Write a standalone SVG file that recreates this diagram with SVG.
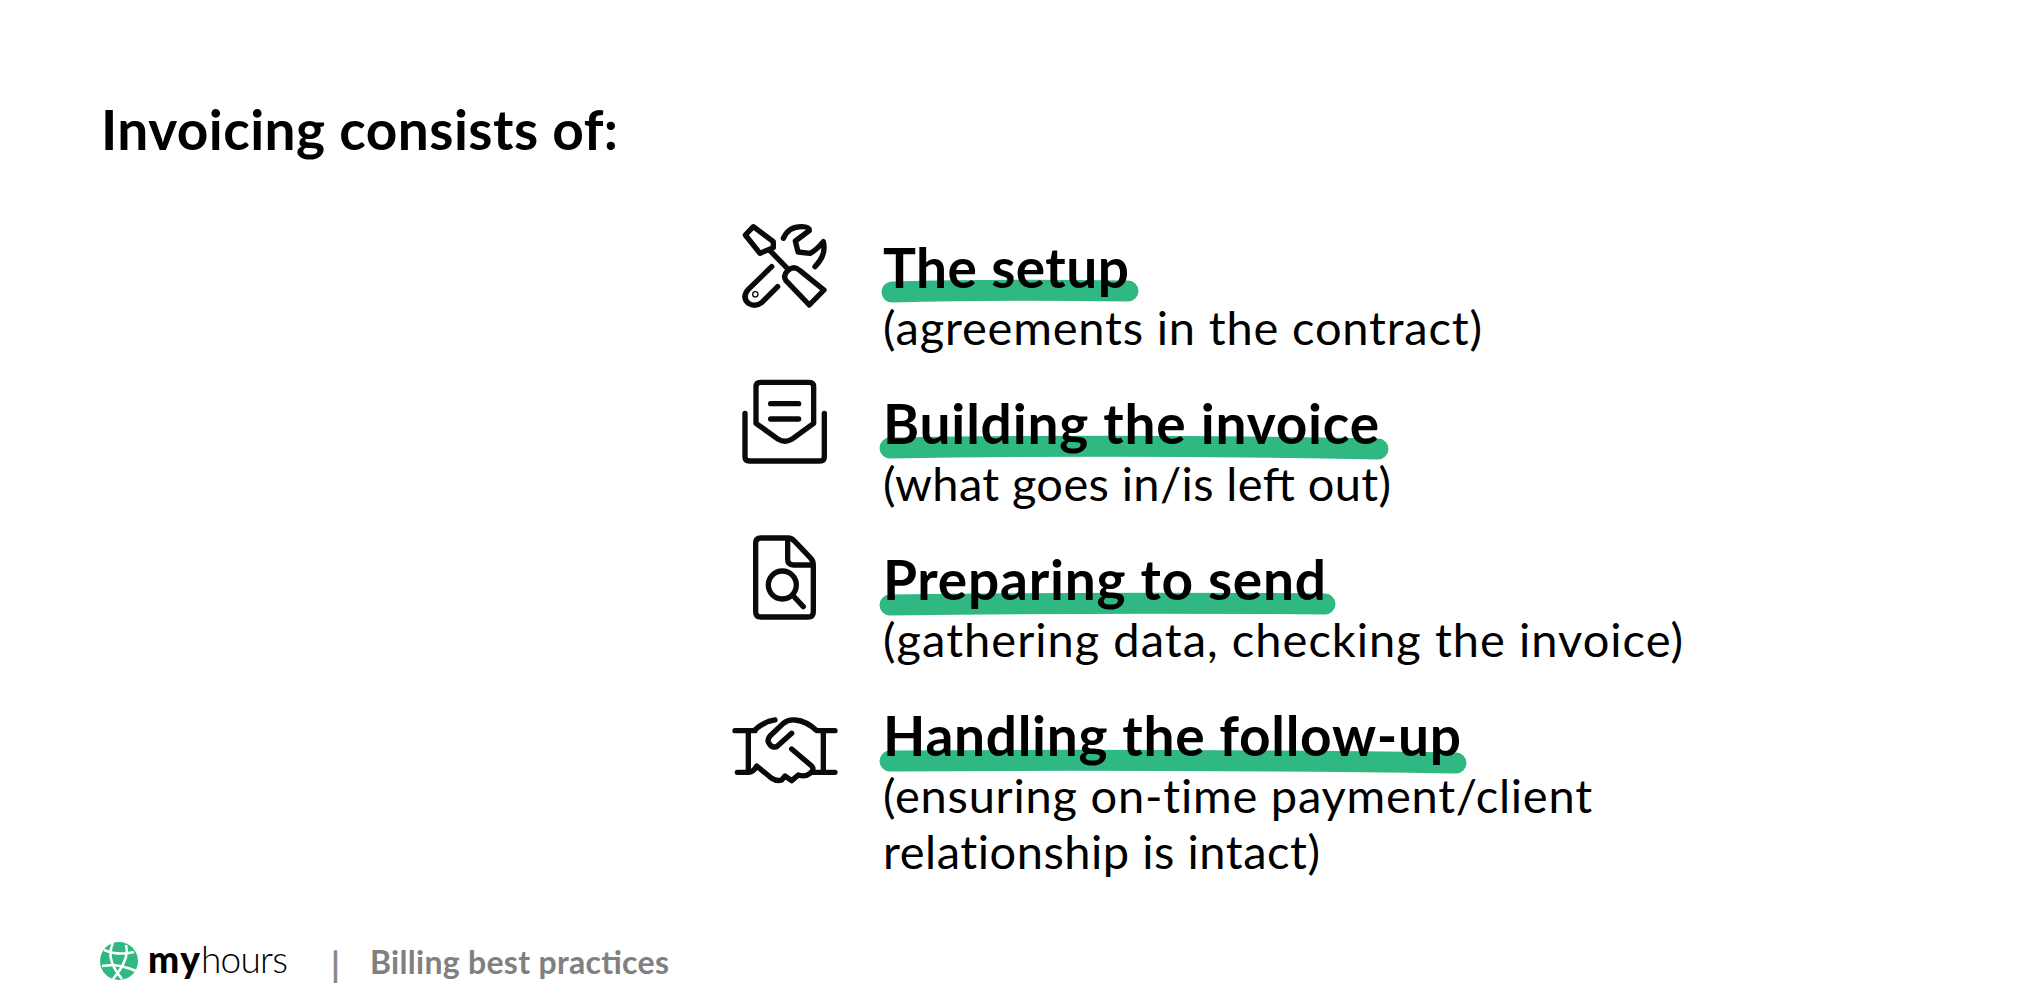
<svg xmlns="http://www.w3.org/2000/svg" width="2042" height="1001" viewBox="0 0 2042 1001">
<style>
text{font-family:"Lato","Noto Sans",sans-serif;fill:#000}
.h{font-size:55px;font-weight:700}
.s{font-size:47px;font-weight:400}
.nl{font-variant-ligatures:none}
.mark{fill:none;stroke:#2fb882;stroke-width:21;stroke-linecap:round}
.ic{fill:none;stroke:#0a0a0a;stroke-width:16;stroke-linecap:round;stroke-linejoin:round}
</style>
<rect width="2042" height="1001" fill="#fff"/>
<g id="title"><text x="101" y="150" style="font-size:55px;font-weight:700" textLength="517">Invoicing consists of:</text></g>
<g id="item-setup">
<path class="mark" d="M892,292 Q1000,289 1128,291"/>
<text class="h" x="883" y="288" textLength="246">The setup</text>
<text class="s" x="883" y="345" textLength="599">(agreements in the contract)</text>
<g class="ic" transform="translate(720 210) scale(.3333)">
<path d="M100,50L160,95L160,113L120,130L76,75Z"/><path d="M150,122L202,175"/>
<path d="M203,182Q222,165 240,182L312,240L268,285L198,212Q188,198 203,182Z"/>
<path d="M155,170L85,238Q65,262 85,280Q105,293 125,278L173,230"/>
<circle cx="106" cy="253" r="2"/>
<path d="M190,85Q205,50 245,50Q268,50 268,62L226,93L234,126L270,130Q290,120 310,95Q320,135 285,170"/>
</g></g>
<g id="item-build">
<path class="mark" d="M890,448 Q1130,444 1378,449"/>
<text class="h" x="883" y="444" textLength="496">Building the invoice</text>
<text class="s" x="883" y="501" textLength="508">(what goes in/is left out)</text>
<g class="ic" transform="translate(720 210) scale(.3333)">
<path d="M108,530Q108,517 121,517H268Q281,517 281,530V640L215,688Q195,700 175,688L108,640Z"/>
<path d="M152,581H236M152,627H236"/>
<path d="M75,610V740Q75,753 88,753H300Q313,753 313,740V610"/>
</g></g>
<g id="item-prepare">
<path class="mark" d="M890,605 Q1100,602 1325,604"/>
<text class="h" x="883" y="600" textLength="443">Preparing to send</text>
<text class="s" x="883" y="657" textLength="800">(gathering data, checking the invoice)</text>
<g class="ic" transform="translate(720 520) scale(.3333)">
<path d="M107,70Q107,54 123,54H205Q215,54 222,62L270,112Q280,122 280,134V275Q280,291 264,291H123Q107,291 107,275Z"/>
<path d="M203,56V118Q203,135 220,135H278"/>
<circle cx="187" cy="195" r="42"/><path d="M220,228L250,260"/>
</g></g>
<g id="item-followup">
<path class="mark" d="M890,761 Q1150,759 1456,763"/>
<text class="h" x="883" y="756" textLength="578">Handling the follow-up</text>
<text class="s nl" x="883" y="813" textLength="709">(ensuring on-time payment/client</text>
<text class="s nl" x="883" y="869" textLength="437">relationship is intact)</text>
<g class="ic" transform="translate(720 520) scale(.3333)">
<path d="M45,632H105M85,632V757M52,757H85Q100,757 110,738L155,775Q170,785 185,780L195,768L215,782L235,765Q255,772 270,760Q285,750 275,738L215,687"/>
<path d="M105,630Q130,605 165,600"/>
<path d="M215,640L170,680Q155,685 147,670Q140,660 150,648L190,610Q205,598 225,600Q260,603 290,632H345M310,632V757M275,757H345"/>
</g></g>
<g id="footer">
<circle cx="119" cy="961" r="19" fill="#2fb882"/>
<path d="M104,950Q118,956 134,952M102,966Q118,963 136,971M113,943Q105,959 122,979M126,945Q130,959 113,979" fill="none" stroke="#fff" stroke-width="2.5"/>
<text x="148" y="973" style="font-size:37px;font-weight:900" textLength="52">my</text>
<text x="201" y="973" style="font-size:37px;font-weight:300" textLength="87">hours</text>
<text x="331" y="977" style="font-size:34px;font-weight:700;fill:#888">|</text>
<text x="370" y="974" style="font-size:32px;font-weight:700;fill:#808080" textLength="299">Billing best practices</text>
</g>
</svg>
